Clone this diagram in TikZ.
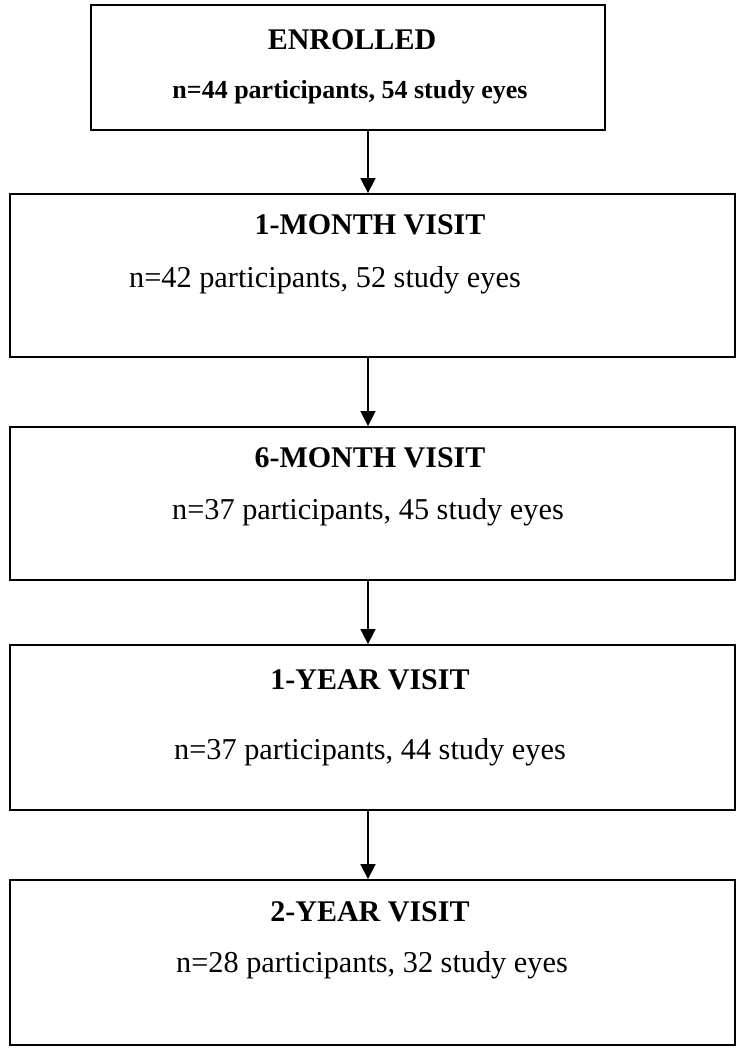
\documentclass[tikz,border=0pt]{standalone}
\usepackage{fontspec}
\setmainfont{Liberation Serif}
\usetikzlibrary{arrows.meta}
\begin{document}
\begin{tikzpicture}[x=1pt,y=-1pt,
  box/.style={draw=black,line width=1.8pt},
  ttl/.style={font=\fontsize{30}{33}\selectfont\bfseries,inner sep=0pt},
  txt/.style={font=\fontsize{30.3}{33}\selectfont,inner sep=0pt},
  btxt/.style={font=\fontsize{26}{30}\selectfont\bfseries,inner sep=0pt},
  arr/.style={line width=1.6pt,-{Triangle[width=15pt,length=15pt]}}]
\useasboundingbox (0,0) rectangle (744,1050);
\node[box,minimum width=514pt,minimum height=125pt,inner sep=0pt] (b1) at (348,67.5) {};
\node[box,minimum width=725pt,minimum height=163pt,inner sep=0pt] (b2) at (372.5,275.5) {};
\node[box,minimum width=725pt,minimum height=153pt,inner sep=0pt] (b3) at (372.5,503.5) {};
\node[box,minimum width=725pt,minimum height=165pt,inner sep=0pt] (b4) at (372.5,727.5) {};
\node[box,minimum width=725pt,minimum height=165pt,inner sep=0pt] (b5) at (372.5,962.5) {};
\node[ttl] (t1) at (352,40) {ENROLLED};
\node[btxt] (s1) at (350,92) {n=44 participants, 54 study eyes};
\node[ttl] (t2) at (370,225) {1-MONTH VISIT};
\node[txt] (s2) at (325,280) {n=42 participants, 52 study eyes};
\node[ttl] (t3) at (370,458) {6-MONTH VISIT};
\node[txt] (s3) at (368,512) {n=37 participants, 45 study eyes};
\node[ttl] (t4) at (370,680) {1-YEAR VISIT};
\node[txt] (s4) at (370,752) {n=37 participants, 44 study eyes};
\node[ttl] (t5) at (370,912) {2-YEAR VISIT};
\node[txt] (s5) at (372,965) {n=28 participants, 32 study eyes};
\draw[arr] (b1.south -| 368,0) -- (b2.north -| 368,0);
\draw[arr] (b2.south -| 368,0) -- (b3.north -| 368,0);
\draw[arr] (b3.south -| 368,0) -- (b4.north -| 368,0);
\draw[arr] (b4.south -| 368,0) -- (b5.north -| 368,0);
\end{tikzpicture}
\end{document}
